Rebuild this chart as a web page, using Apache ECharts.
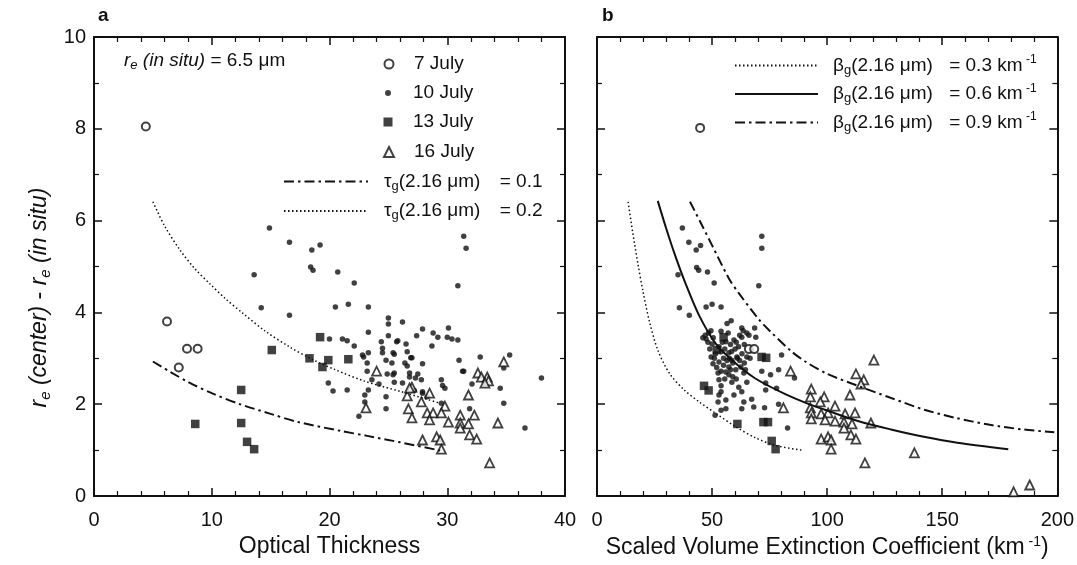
<!DOCTYPE html>
<html><head><meta charset="utf-8">
<script src="https://cdn.jsdelivr.net/npm/echarts@6/dist/echarts.min.js"></script>
<style>html,body{margin:0;padding:0;background:#fff}#c{width:1077px;height:565px}</style>
</head><body><div id="c"></div>
<script>
// ---------- Panel a : Optical Thickness ----------
const a_jul7 = [[4.4,8.05],[6.2,3.8],[7.2,2.8],[7.9,3.21],[8.8,3.21]];
const a_jul10 = [[14.9,5.84],[16.6,5.53],[18.5,5.36],[19.2,5.47],[18.4,4.99],[18.6,4.92],[20.7,4.88],[13.6,4.82],[22.1,4.64],[14.2,4.10],[16.6,3.94],[20.5,4.12],[21.6,4.18],[23.3,4.12],[25.0,3.88],[25.0,3.75],[23.3,3.57],[25.0,3.49],[20.0,3.42],[21.1,3.42],[21.5,3.38],[22.1,3.27],[24.4,3.36],[24.5,3.22],[25.7,3.36],[23.3,3.12],[22.9,3.03],[25.4,3.12],[24.8,2.96],[25.3,2.90],[23.2,2.90],[23.2,2.72],[24.9,2.66],[25.4,2.64],[25.5,2.48],[23.6,2.53],[24.2,2.44],[19.9,2.46],[20.3,2.29],[21.5,2.31],[23.3,2.31],[23.0,2.20],[24.8,2.16],[23.0,2.05],[24.8,1.90],[22.5,1.74],[31.4,5.66],[31.6,5.40],[30.9,4.58],[26.2,3.79],[27.9,3.64],[27.4,3.49],[28.8,3.55],[29.2,3.46],[30.1,3.66],[30.0,3.46],[30.4,3.42],[30.9,3.40],[28.7,3.27],[25.8,3.38],[26.5,3.31],[26.6,3.14],[25.5,3.09],[26.9,3.01],[26.4,2.90],[26.6,2.83],[27.9,2.88],[32.8,3.03],[31.0,2.96],[35.3,3.07],[34.8,2.79],[31.4,2.72],[32.1,2.44],[38.0,2.57],[25.5,2.68],[26.2,2.46],[26.8,2.59],[27.5,2.66],[27.8,2.53],[29.5,2.53],[27.9,2.24],[27.2,2.30],[29.5,2.02],[31.9,1.90],[34.8,2.02],[34.5,2.35],[36.6,1.48],[31.3,2.72],[29.6,2.41],[29.8,2.35],[22.8,3.07],[24.5,3.12],[27.0,3.01],[28.3,2.16],[27.9,2.27],[26.8,2.68],[27.3,2.57]];
const a_jul13 = [[8.6,1.57],[12.5,2.31],[12.5,1.59],[13.0,1.18],[13.6,1.02],[15.1,3.18],[19.2,3.46],[18.3,3.00],[19.9,2.96],[19.4,2.81],[21.6,2.98]];
const a_jul16 = [[24.0,2.72],[23.1,1.92],[34.8,2.92],[32.6,2.68],[32.9,2.59],[33.4,2.59],[33.5,2.51],[33.2,2.46],[27.0,2.37],[26.6,2.18],[28.5,2.24],[27.8,2.05],[31.8,2.20],[29.8,1.96],[26.7,1.90],[27.0,1.70],[28.3,1.81],[28.8,1.81],[29.5,1.81],[28.5,1.66],[30.1,1.61],[31.1,1.76],[32.3,1.76],[31.1,1.59],[31.1,1.48],[31.8,1.57],[31.9,1.33],[32.5,1.24],[34.3,1.59],[27.9,1.22],[29.1,1.29],[29.4,1.22],[29.5,1.02],[33.6,0.72],[26.8,2.35]];
const a_tau01 = [[5.0,2.93],[6.5,2.70],[8.1,2.47],[10.0,2.24],[12.4,2.00],[15.0,1.79],[17.2,1.62],[20.9,1.42],[23.2,1.31],[26.0,1.17],[29.4,0.99]];
const a_tau02 = [[5.0,6.41],[6.0,5.88],[7.3,5.36],[8.5,4.97],[9.85,4.62],[11.2,4.29],[12.6,3.99],[14.5,3.60],[16.6,3.25],[18.5,2.98],[20.5,2.75],[23.0,2.50],[26.0,2.28],[29.4,2.02]];

// ---------- Panel b : Scaled Volume Extinction Coefficient ----------
const b_jul7 = [[44.8,8.02],[66.0,3.20],[68.3,3.20]];
const b_jul10 = [[37.1,5.84],[39.9,5.53],[43.1,5.36],[45.0,5.46],[43.3,4.98],[44.2,4.92],[48.0,4.88],[35.2,4.82],[71.6,5.66],[71.6,5.40],[70.3,4.58],[50.9,4.64],[50.0,4.18],[47.4,4.12],[53.9,4.12],[35.8,4.10],[40.1,3.94],[56.5,3.76],[58.3,3.82],[53.9,3.59],[62.9,3.66],[68.5,3.66],[62.9,3.46],[65.1,3.55],[69.0,3.46],[47.4,3.42],[50.0,3.31],[53.0,3.25],[56.0,3.36],[59.5,3.40],[53.9,3.14],[57.3,3.12],[49.6,3.03],[53.0,2.92],[50.4,2.88],[58.6,2.96],[60.8,3.03],[65.1,3.03],[62.5,2.81],[57.3,2.81],[60.3,2.75],[63.8,2.68],[57.3,2.64],[53.9,2.72],[52.6,2.68],[80.2,3.07],[71.6,2.72],[75.4,2.64],[78.9,2.75],[85.8,2.57],[53.0,2.53],[58.6,2.48],[65.1,2.48],[53.9,2.40],[61.6,2.37],[62.9,2.27],[53.9,2.27],[53.0,2.20],[56.0,2.09],[52.6,2.05],[67.2,2.11],[73.3,2.31],[78.0,2.35],[73.3,2.46],[63.8,2.05],[68.1,1.94],[62.9,1.90],[56.0,1.90],[72.8,1.92],[78.9,2.00],[53.9,1.87],[51.3,1.76],[82.8,1.48],[60.0,3.20],[61.0,3.00],[55.0,3.00],[59.0,2.60],[64.0,3.30],[66.5,3.00],[55.5,2.55],[59.5,2.20],[57.0,3.55],[58.0,3.30],[61.5,3.25],[63.0,3.10],[59.0,2.90],[62.0,2.95],[60.5,2.55],[64.5,2.75],[46.0,3.45],[47.0,3.50],[48.2,3.35],[49.0,3.20],[48.5,3.55],[51.0,3.00],[52.0,2.80],[54.5,3.35],[55.5,3.20],[56.5,2.95],[57.5,3.00],[58.5,3.15],[60.5,3.35],[62.0,3.50],[63.5,3.60],[66.0,3.50],[64.0,2.90],[58.0,2.75],[56.0,2.70],[55.0,2.85],[51.5,3.10],[50.5,3.45],[49.5,3.60]];
const b_jul13 = [[46.5,2.40],[48.5,2.30],[61.0,1.57],[72.3,1.61],[74.3,1.61],[75.9,1.20],[77.6,1.02],[71.5,3.03],[73.5,3.01],[55.0,3.46],[52.0,3.18]];
const b_jul16 = [[84.1,2.72],[120.3,2.96],[112.5,2.66],[115.9,2.53],[114.7,2.44],[93.1,2.33],[92.7,2.16],[98.7,2.16],[97.0,2.05],[109.9,2.20],[81.0,1.92],[92.7,1.92],[103.4,1.96],[93.1,1.81],[97.4,1.79],[100.4,1.81],[107.8,1.79],[112.1,1.81],[93.1,1.68],[99.1,1.66],[103.4,1.63],[107.3,1.61],[110.8,1.57],[107.3,1.48],[119.0,1.59],[97.4,1.24],[100.4,1.29],[101.7,1.22],[101.7,1.02],[110.3,1.33],[112.5,1.24],[137.9,0.94],[116.4,0.72],[181.0,0.09],[188.0,0.24]];
const b_beta03 = [[13.5,6.41],[15.5,5.75],[17.8,5.05],[20.0,4.45],[22.8,3.80],[26.4,3.18],[31.5,2.67],[37.9,2.31],[44.4,2.05],[51.6,1.80],[60.2,1.51],[68.8,1.27],[77.5,1.10],[88.8,1.00]];
const b_beta06 = [[26.4,6.43],[30.0,5.84],[34.1,5.22],[38.7,4.60],[44.4,3.93],[51.6,3.32],[60.2,2.89],[68.8,2.56],[81.8,2.22],[93.2,1.98],[99.0,1.88],[113.0,1.64],[127.7,1.45],[142.0,1.29],[156.5,1.16],[178.7,1.02]];
const b_beta09 = [[40.4,6.41],[45.0,5.96],[50.0,5.46],[57.3,4.74],[61.6,4.42],[70.3,3.85],[75.0,3.60],[84.5,3.15],[90.5,2.93],[100.0,2.66],[113.4,2.40],[127.0,2.15],[142.2,1.88],[156.0,1.70],[170.7,1.55],[185.0,1.45],[198.7,1.39]];

// axis ticks
const a_xTicks = [0, 10, 20, 30, 40];
const b_xTicks = [0, 50, 100, 150, 200];
const yTicks = [0, 2, 4, 6, 8, 10];

const FONT = '"Liberation Sans", Arial, Helvetica, sans-serif';
const BLACK = '#111';

function axisBase(extra) {
  return Object.assign({
    type: 'value',
    axisLine: { show: true, onZero: false, lineStyle: { color: BLACK, width: 2 } },
    axisTick: { show: true, inside: true, length: 8, lineStyle: { color: BLACK, width: 1.5 } },
    splitLine: { show: false },
    minorSplitLine: { show: false },
    axisLabel: { show: false }
  }, extra);
}
function minor(n) { return { show: true, splitNumber: n, length: 5, lineStyle: { color: BLACK, width: 1.2 } }; }
const tickLabel = { show: true, color: BLACK, fontSize: 20, fontFamily: FONT };
const T = (sz, extra) => Object.assign({ fontSize: sz, fontFamily: FONT, color: BLACK }, extra || {});

function dateLegend(name, icon, size, centerY) {
  return { data: [name], icon: icon, left: 388 - size / 2, top: centerY - 9.5, itemWidth: size, itemHeight: size,
    padding: 0, selectedMode: false,
    textStyle: T(19, { padding: [0, 0, 0, 20 - size / 2] }) };
}

const chart = echarts.init(document.getElementById('c'));

const option = {
  backgroundColor: '#fff',
  animation: false,
  textStyle: { fontFamily: FONT, color: BLACK },
  grid: [
    { left: 94, top: 37, width: 471, height: 459, show: false },
    { left: 597, top: 37, width: 464, height: 459, show: false }
  ],
  xAxis: [
    axisBase({ gridIndex: 0, position: 'bottom', min: a_xTicks[0], max: a_xTicks[a_xTicks.length - 1], interval: a_xTicks[1] - a_xTicks[0],
      minorTick: minor(5), axisLabel: Object.assign({}, tickLabel, { margin: 14 }),
      name: 'Optical Thickness', nameLocation: 'middle', nameGap: 39, nameTextStyle: T(23) }),
    axisBase({ gridIndex: 0, position: 'top', min: a_xTicks[0], max: a_xTicks[a_xTicks.length - 1], interval: a_xTicks[1] - a_xTicks[0],
      minorTick: minor(5) }),
    axisBase({ gridIndex: 1, position: 'bottom', min: b_xTicks[0], max: b_xTicks[b_xTicks.length - 1], interval: b_xTicks[1] - b_xTicks[0],
      minorTick: minor(5), axisLabel: Object.assign({}, tickLabel, { margin: 14 }),
      name: '{n|Scaled Volume Extinction Coefficient (km}{p| -1}{n|)}', nameLocation: 'middle', nameGap: 39,
      nameTextStyle: T(23, { rich: { n: T(23), p: T(14, { padding: [0, 0, 12, 0] }) } }) }),
    axisBase({ gridIndex: 1, position: 'top', min: b_xTicks[0], max: b_xTicks[b_xTicks.length - 1], interval: b_xTicks[1] - b_xTicks[0],
      minorTick: minor(5) })
  ],
  yAxis: [
    axisBase({ gridIndex: 0, position: 'left', min: yTicks[0], max: yTicks[yTicks.length - 1], interval: yTicks[1] - yTicks[0],
      minorTick: minor(2), axisLabel: Object.assign({}, tickLabel, { margin: 8 }),
      name: '{i|r}{s|e}{i| (center)}{n| - }{i|r}{s|e}{i| (in situ)}', nameLocation: 'middle', nameGap: 41,
      nameTextStyle: T(23, { padding: [0, 62, 0, 0],
        rich: { i: T(23, { fontStyle: 'italic' }), s: T(15, { fontStyle: 'italic', padding: [11, 0, 0, 0] }), n: T(23) } }) }),
    axisBase({ gridIndex: 0, position: 'right', min: yTicks[0], max: yTicks[yTicks.length - 1], interval: yTicks[1] - yTicks[0],
      minorTick: minor(2) }),
    axisBase({ gridIndex: 1, position: 'left', min: yTicks[0], max: yTicks[yTicks.length - 1], interval: yTicks[1] - yTicks[0],
      minorTick: minor(2) }),
    axisBase({ gridIndex: 1, position: 'right', min: yTicks[0], max: yTicks[yTicks.length - 1], interval: yTicks[1] - yTicks[0],
      minorTick: minor(2) })
  ],
  legend: [
    dateLegend('7 July', 'circle', 9, 64),
    dateLegend('10 July', 'circle', 6, 93),
    dateLegend('13 July', 'rect', 9, 122),
    dateLegend('16 July', 'triangle', 10, 152),
    { data: ['tau01', 'tau02'], orient: 'vertical', left: 283, top: 172, itemWidth: 84, itemHeight: 14, itemGap: 9, padding: 0, selectedMode: false,
      itemStyle: { color: 'rgba(0,0,0,0)', borderWidth: 0 },
      formatter: function (n) { return '{a|τ}{s|g}{b|(2.16 μm)}{c|= ' + (n === 'tau01' ? '0.1' : '0.2') + '}'; },
      textStyle: T(19, { padding: [0, 0, 0, 11],
        rich: { a: T(19), s: T(13, { padding: [9, 0, 0, 0] }), b: T(19, { width: 101 }), c: T(19) } }) },
    { data: ['beta03', 'beta06', 'beta09'], orient: 'vertical', left: 734, top: 54, itemWidth: 83, itemHeight: 14, itemGap: 6, padding: 0, selectedMode: false,
      itemStyle: { color: 'rgba(0,0,0,0)', borderWidth: 0 },
      formatter: function (n) { const v = { beta03: '0.3', beta06: '0.6', beta09: '0.9' }[n]; return '{a|β}{s|g}{b|(2.16 μm)}{c|= ' + v + ' km}{p| -1}'; },
      textStyle: T(19, { padding: [0, 0, 0, 10],
        rich: { a: T(19), s: T(13, { padding: [9, 0, 0, 0] }), b: T(19, { width: 98 }), c: T(19), p: T(12, { padding: [0, 0, 11, 0] }) } }) }
  ],
  graphic: [
    { type: 'text', left: 98, top: 6, style: { text: 'a', font: 'bold 19px ' + FONT, fill: BLACK } },
    { type: 'text', left: 602, top: 6, style: { text: 'b', font: 'bold 19px ' + FONT, fill: BLACK } },
    { type: 'text', left: 124, top: 51, style: { text: '{i|r}{s|e}{i| (in situ)}{n| = 6.5 μm}', fill: BLACK,
      rich: { i: { fontSize: 19, fontStyle: 'italic', fontFamily: FONT, fill: BLACK }, s: { fontSize: 13, fontStyle: 'italic', fontFamily: FONT, fill: BLACK, padding: [9, 0, 0, 0] },
              n: { fontSize: 19, fontFamily: FONT, fill: BLACK } } } }
  ],
  series: [
    // panel a
    { name: 'tau02', type: 'line', xAxisIndex: 0, yAxisIndex: 0, data: a_tau02, smooth: 0.3, symbol: 'none', silent: true,
      lineStyle: { color: BLACK, width: 1.5, type: [1.5, 2.5] } },
    { name: 'tau01', type: 'line', xAxisIndex: 0, yAxisIndex: 0, data: a_tau01, smooth: 0.3, symbol: 'none', silent: true,
      lineStyle: { color: BLACK, width: 2, type: [10, 4, 2.5, 4] } },
    { name: '10 July', type: 'scatter', xAxisIndex: 0, yAxisIndex: 0, data: a_jul10, symbol: 'circle', symbolSize: 5.5, itemStyle: { color: BLACK } },
    { name: '7 July', type: 'scatter', xAxisIndex: 0, yAxisIndex: 0, data: a_jul7, symbol: 'circle', symbolSize: 8, itemStyle: { color: '#fff', borderColor: BLACK, borderWidth: 2 } },
    { name: '13 July', type: 'scatter', xAxisIndex: 0, yAxisIndex: 0, data: a_jul13, symbol: 'rect', symbolSize: 8.5, itemStyle: { color: BLACK } },
    { name: '16 July', type: 'scatter', xAxisIndex: 0, yAxisIndex: 0, data: a_jul16, symbol: 'triangle', symbolSize: 9, itemStyle: { color: '#fff', borderColor: BLACK, borderWidth: 1.8 } },
    // panel b
    { name: 'beta03', type: 'line', xAxisIndex: 2, yAxisIndex: 2, data: b_beta03, smooth: 0.3, symbol: 'none', silent: true,
      lineStyle: { color: BLACK, width: 1.5, type: [1.5, 2.5] } },
    { name: 'beta06', type: 'line', xAxisIndex: 2, yAxisIndex: 2, data: b_beta06, smooth: 0.3, symbol: 'none', silent: true,
      lineStyle: { color: BLACK, width: 2, type: 'solid' } },
    { name: 'beta09', type: 'line', xAxisIndex: 2, yAxisIndex: 2, data: b_beta09, smooth: 0.3, symbol: 'none', silent: true,
      lineStyle: { color: BLACK, width: 2, type: [10, 4, 2.5, 4] } },
    { name: '10 July', type: 'scatter', xAxisIndex: 2, yAxisIndex: 2, data: b_jul10, symbol: 'circle', symbolSize: 5.5, itemStyle: { color: BLACK } },
    { name: '7 July', type: 'scatter', xAxisIndex: 2, yAxisIndex: 2, data: b_jul7, symbol: 'circle', symbolSize: 8, itemStyle: { color: '#fff', borderColor: BLACK, borderWidth: 2 } },
    { name: '13 July', type: 'scatter', xAxisIndex: 2, yAxisIndex: 2, data: b_jul13, symbol: 'rect', symbolSize: 8.5, itemStyle: { color: BLACK } },
    { name: '16 July', type: 'scatter', xAxisIndex: 2, yAxisIndex: 2, data: b_jul16, symbol: 'triangle', symbolSize: 9, itemStyle: { color: '#fff', borderColor: BLACK, borderWidth: 1.8 } }
  ]
};
chart.setOption(option);
</script></body></html>
